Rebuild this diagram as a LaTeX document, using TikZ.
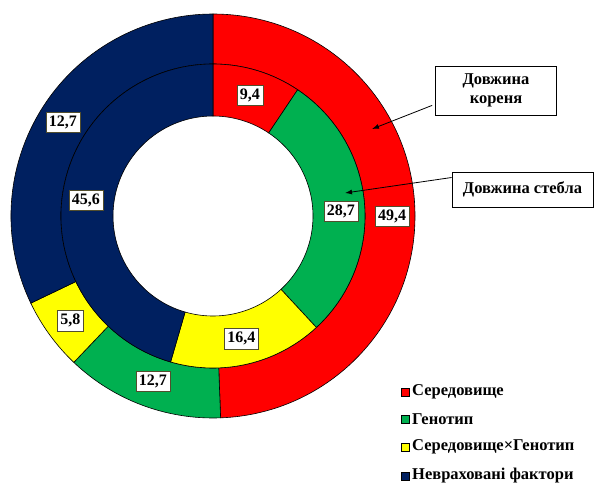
\documentclass[tikz,border=0pt]{standalone}
\usepackage{fontspec}
\setmainfont{Liberation Serif}
\usetikzlibrary{arrows.meta,calc}
\definecolor{cred}{HTML}{FF0000}
\definecolor{cgreen}{HTML}{00B050}
\definecolor{cyellow}{HTML}{FFFF00}
\definecolor{cnavy}{HTML}{002060}
\tikzset{
  seg/.style={draw=black,line width=0.6pt},
  valbox/.style={fill=white,draw=black!55!olive,line width=0.5pt,inner xsep=3pt,inner ysep=3.5pt,
    font=\bfseries\fontsize{16}{16}\selectfont},
  callout/.style={fill=white,draw=black,line width=0.8pt,align=center,
    font=\bfseries\fontsize{16.5}{19}\selectfont},
  legsq/.style={draw=black,line width=0.5pt,minimum size=8pt,inner sep=0pt},
  legtxt/.style={anchor=west,inner sep=0pt,font=\bfseries\fontsize{16.5}{16.5}\selectfont},
  arr/.style={line width=0.8pt,-{Latex[length=7pt,width=5pt]}}
}
\newcommand{\ringseg}[5]{% color, a1, a2, r1, r2
  \filldraw[seg,fill=#1] (#2:#5) arc[start angle=#2,end angle=#3,radius=#5]
    -- (#3:#4) arc[start angle=#3,end angle=#2,radius=#4] -- cycle;}
\begin{document}
\begin{tikzpicture}[x=1pt,y=1pt]
\useasboundingbox (0,0) rectangle (596,483);
\begin{scope}[shift={(213,267)}]
  % outer ring (root length)
  \ringseg{cred}{90}{-87.84}{152}{202}
  \ringseg{cgreen}{-87.84}{-133.56}{152}{202}
  \ringseg{cyellow}{-133.56}{-154.44}{152}{202}
  \ringseg{cnavy}{-154.44}{-270}{152}{202}
  % inner ring (stem length)
  \ringseg{cred}{90}{56.16}{100}{152}
  \ringseg{cgreen}{56.16}{-47.16}{100}{152}
  \ringseg{cyellow}{-47.16}{-106.2}{100}{152}
  \ringseg{cnavy}{-106.2}{-270}{100}{152}
  % value labels
  \node[valbox] (v1) at (73:126) {9,4};
  \node[valbox] (v2) at (2:128) {28,7};
  \node[valbox] (v3) at (-77:126) {16,4};
  \node[valbox] (v4) at (173:128) {45,6};
  \node[valbox] (v5) at (0:179) {49,4};
  \node[valbox] (v6) at (-110:176) {12,7};
  \node[valbox] (v7) at (-143.7:177) {5,8};
  \node[valbox] (v8) at (148:177) {12,7};
\end{scope}
% callouts
\node[callout,minimum width=121pt,minimum height=49pt] (c1) at (496,392.5) {Довжина\\кореня};
\node[callout,minimum width=141pt,minimum height=35pt] (c2) at (522.5,293.5) {Довжина стебла};
\coordinate (t1) at (372,354);
\coordinate (t2) at (345,290);
\draw[arr] ($(c1.south west)+(-3,10)$) -- (t1);
\draw[arr] ($(c2.west)+(0,12)$) -- (t2);
% legend
\node[legsq,fill=cred] (l1) at (405.5,91) {};
\node[legtxt] (lt1) at (412,91) {Середовище};
\node[legsq,fill=cgreen] (l2) at (405.5,64) {};
\node[legtxt] (lt2) at (412,64) {Генотип};
\node[legsq,fill=cyellow] (l3) at (405.5,36) {};
\node[legtxt] (lt3) at (412,36) {Середовище×Генотип};
\node[legsq,fill=cnavy] (l4) at (405.5,7) {};
\node[legtxt] (lt4) at (412,7) {Невраховані фактори};
\end{tikzpicture}
\end{document}
